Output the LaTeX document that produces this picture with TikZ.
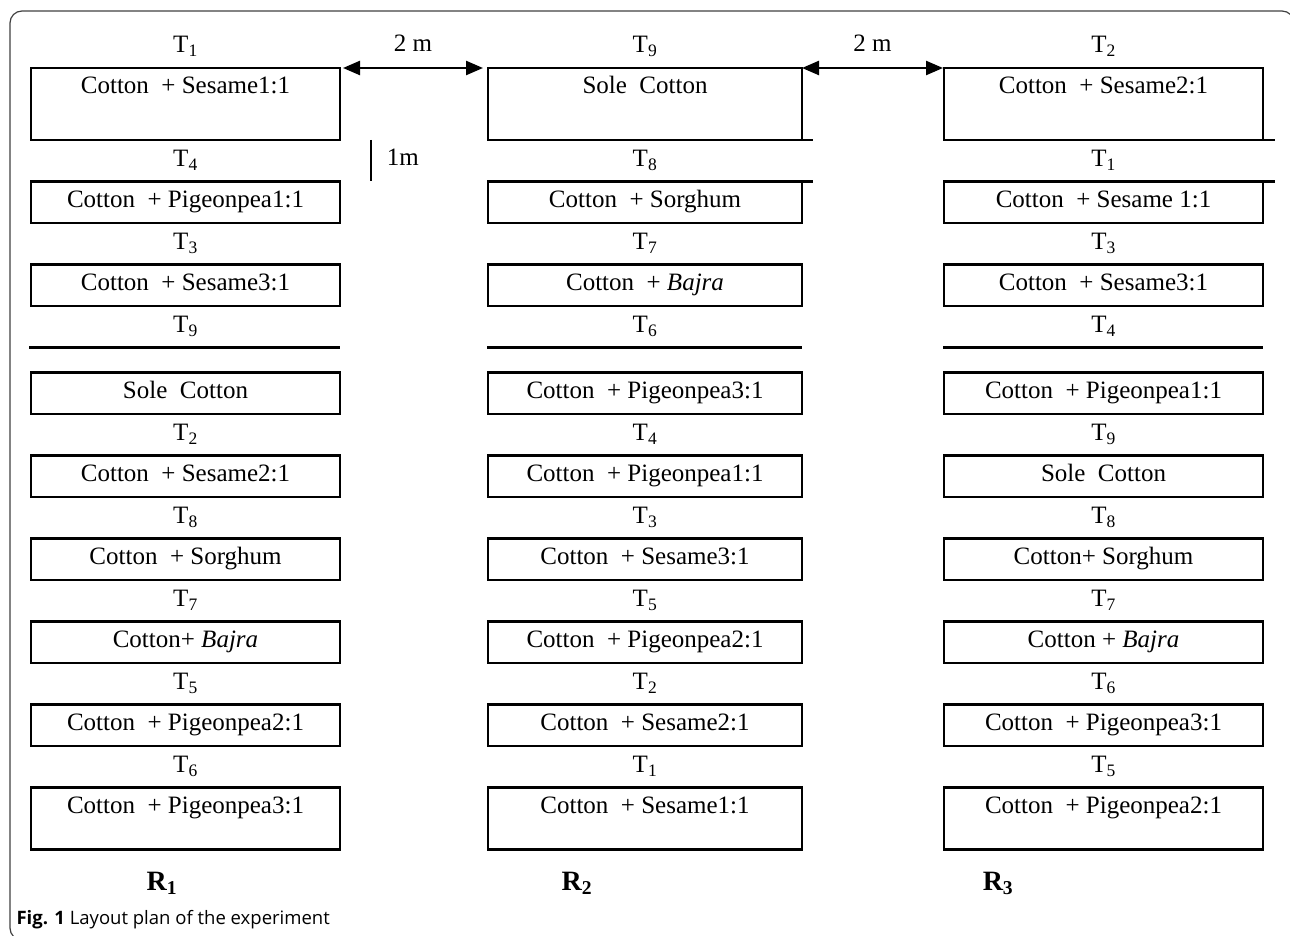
\documentclass[tikz,border=0pt]{standalone}
\usepackage{fontspec}
\setmainfont{Liberation Serif}
\newfontfamily\captionfont{Open Sans}
\usepackage{tikz}
\usetikzlibrary{positioning}
\usetikzlibrary{arrows.meta}

\begin{document}
\begin{tikzpicture}[
    x=1pt, y=-1pt,
    plot/.style={rectangle, draw=black, line width=2.4pt, outer sep=0pt, inner xsep=0pt, inner ysep=8.75pt, text height=17pt, text depth=7pt, font=\fontsize{25}{29}\selectfont},
    tallplot/.style={plot, text depth=37.5pt},
    endplot/.style={plot, text depth=27.5pt},
    tlabel/.style={inner sep=0pt, text height=16pt, text depth=6pt, font=\fontsize{25}{29}\selectfont},
    rep/.style={anchor=base, font=\fontsize{28}{32}\selectfont\bfseries},
    edge/.style={line width=2.4pt},
    gap/.style={line width=2.4pt, {Triangle[length=17pt,width=14pt]}-{Triangle[length=17pt,width=14pt]}}
]
\useasboundingbox (0,0) rectangle (1290,936);
\draw[line width=1.2pt, black!75, rounded corners=12pt] (10,11) rectangle (1294,940);

% R1
\begin{scope}[plot/.append style={minimum width=309pt}]
\node[tallplot, anchor=north] (a1) at (185.5,68) {Cotton\ \ + Sesame1:1};
\node[plot] (a2) [below=41.5pt of a1] {Cotton\ \ + Pigeonpea1:1};
\node[plot] (a3) [below=41.5pt of a2] {Cotton\ \ + Sesame3:1};
\node[plot] (a4) [below=66.5pt of a3] {Sole\ \ Cotton};
\node[plot] (a5) [below=41.5pt of a4] {Cotton\ \ + Sesame2:1};
\node[plot] (a6) [below=41.5pt of a5] {Cotton\ \ + Sorghum};
\node[plot] (a7) [below=41.5pt of a6] {Cotton+ \textit{Bajra}};
\node[plot] (a8) [below=41.5pt of a7] {Cotton\ \ + Pigeonpea2:1};
\node[endplot] (a9) [below=41.5pt of a8] {Cotton\ \ + Pigeonpea3:1};
\end{scope}
\node[tlabel] (ta1) [above=9pt of a1] {T\textsubscript{1}};
\node[tlabel] (ta2) [above=9pt of a2] {T\textsubscript{4}};
\node[tlabel] (ta3) [above=9pt of a3] {T\textsubscript{3}};
\node[tlabel] (ta4) [above=34pt of a4] {T\textsubscript{9}};
\node[tlabel] (ta5) [above=9pt of a5] {T\textsubscript{2}};
\node[tlabel] (ta6) [above=9pt of a6] {T\textsubscript{8}};
\node[tlabel] (ta7) [above=9pt of a7] {T\textsubscript{7}};
\node[tlabel] (ta8) [above=9pt of a8] {T\textsubscript{5}};
\node[tlabel] (ta9) [above=9pt of a9] {T\textsubscript{6}};
\draw[edge] ([xshift=-2pt, yshift=25pt]a4.north west) -- ([yshift=25pt]a4.north east);

% R2
\begin{scope}[plot/.append style={minimum width=314pt}]
\node[tallplot, anchor=north] (b1) at (645,68) {Sole\ \ Cotton};
\node[plot] (b2) [below=41.5pt of b1] {Cotton\ \ + Sorghum};
\node[plot] (b3) [below=41.5pt of b2] {Cotton\ \ + \textit{Bajra}};
\node[plot] (b4) [below=66.5pt of b3] {Cotton\ \ + Pigeonpea3:1};
\node[plot] (b5) [below=41.5pt of b4] {Cotton\ \ + Pigeonpea1:1};
\node[plot] (b6) [below=41.5pt of b5] {Cotton\ \ + Sesame3:1};
\node[plot] (b7) [below=41.5pt of b6] {Cotton\ \ + Pigeonpea2:1};
\node[plot] (b8) [below=41.5pt of b7] {Cotton\ \ + Sesame2:1};
\node[endplot] (b9) [below=41.5pt of b8] {Cotton\ \ + Sesame1:1};
\end{scope}
\node[tlabel] (tb1) [above=9pt of b1] {T\textsubscript{9}};
\node[tlabel] (tb2) [above=9pt of b2] {T\textsubscript{8}};
\node[tlabel] (tb3) [above=9pt of b3] {T\textsubscript{7}};
\node[tlabel] (tb4) [above=34pt of b4] {T\textsubscript{6}};
\node[tlabel] (tb5) [above=9pt of b5] {T\textsubscript{4}};
\node[tlabel] (tb6) [above=9pt of b6] {T\textsubscript{3}};
\node[tlabel] (tb7) [above=9pt of b7] {T\textsubscript{5}};
\node[tlabel] (tb8) [above=9pt of b8] {T\textsubscript{2}};
\node[tlabel] (tb9) [above=9pt of b9] {T\textsubscript{1}};
\draw[edge] ([xshift=-1pt, yshift=25pt]b4.north west) -- ([yshift=25pt]b4.north east);
\draw[edge] (b1.south east) -- ++(10.5,0);
\draw[edge] (b2.north east) -- ++(10.5,0);

% R3
\begin{scope}[plot/.append style={minimum width=319pt}]
\node[tallplot, anchor=north] (c1) at (1103.5,68) {Cotton\ \ + Sesame2:1};
\node[plot] (c2) [below=41.5pt of c1] {Cotton\ \ + Sesame 1:1};
\node[plot] (c3) [below=41.5pt of c2] {Cotton\ \ + Sesame3:1};
\node[plot] (c4) [below=66.5pt of c3] {Cotton\ \ + Pigeonpea1:1};
\node[plot] (c5) [below=41.5pt of c4] {Sole\ \ Cotton};
\node[plot] (c6) [below=41.5pt of c5] {Cotton+ Sorghum};
\node[plot] (c7) [below=41.5pt of c6] {Cotton + \textit{Bajra}};
\node[plot] (c8) [below=41.5pt of c7] {Cotton\ \ + Pigeonpea3:1};
\node[endplot] (c9) [below=41.5pt of c8] {Cotton\ \ + Pigeonpea2:1};
\end{scope}
\node[tlabel] (tc1) [above=9pt of c1] {T\textsubscript{2}};
\node[tlabel] (tc2) [above=9pt of c2] {T\textsubscript{1}};
\node[tlabel] (tc3) [above=9pt of c3] {T\textsubscript{3}};
\node[tlabel] (tc4) [above=34pt of c4] {T\textsubscript{4}};
\node[tlabel] (tc5) [above=9pt of c5] {T\textsubscript{9}};
\node[tlabel] (tc6) [above=9pt of c6] {T\textsubscript{8}};
\node[tlabel] (tc7) [above=9pt of c7] {T\textsubscript{7}};
\node[tlabel] (tc8) [above=9pt of c8] {T\textsubscript{6}};
\node[tlabel] (tc9) [above=9pt of c9] {T\textsubscript{5}};
\draw[edge] ([xshift=-1pt, yshift=25pt]c4.north west) -- ([yshift=25pt]c4.north east);
\draw[edge] (c1.south east) -- ++(12,0);
\draw[edge] (c2.north east) -- ++(12,0);

% spacings
\draw[gap] ([xshift=3pt]a1.north east) -- node[tlabel, above=9pt] (gapab) {2 m} ([xshift=-5pt]b1.north west);
\draw[gap] (b1.north east) -- node[tlabel, above=9pt] (gapbc) {2 m} ([xshift=-1pt]c1.north west);
\coordinate (m1) at ([xshift=31pt]a1.south east);
\coordinate (m2) at ([xshift=31pt]a2.north east);
\draw[line width=1.8pt] (m1) -- node[tlabel, right=15pt] (gapm) {1m} (m2);

\node[rep] (r1) at (162,890) {R\textsubscript{1}};
\node[rep] (r2) at (577,890) {R\textsubscript{2}};
\node[rep] (r3) at (998,890) {R\textsubscript{3}};

\node[anchor=base west, font=\captionfont\fontsize{18.5}{21}\selectfont] (fig) at (13,924) {\textbf{Fig. 1} Layout plan of the experiment};
\end{tikzpicture}
\end{document}
